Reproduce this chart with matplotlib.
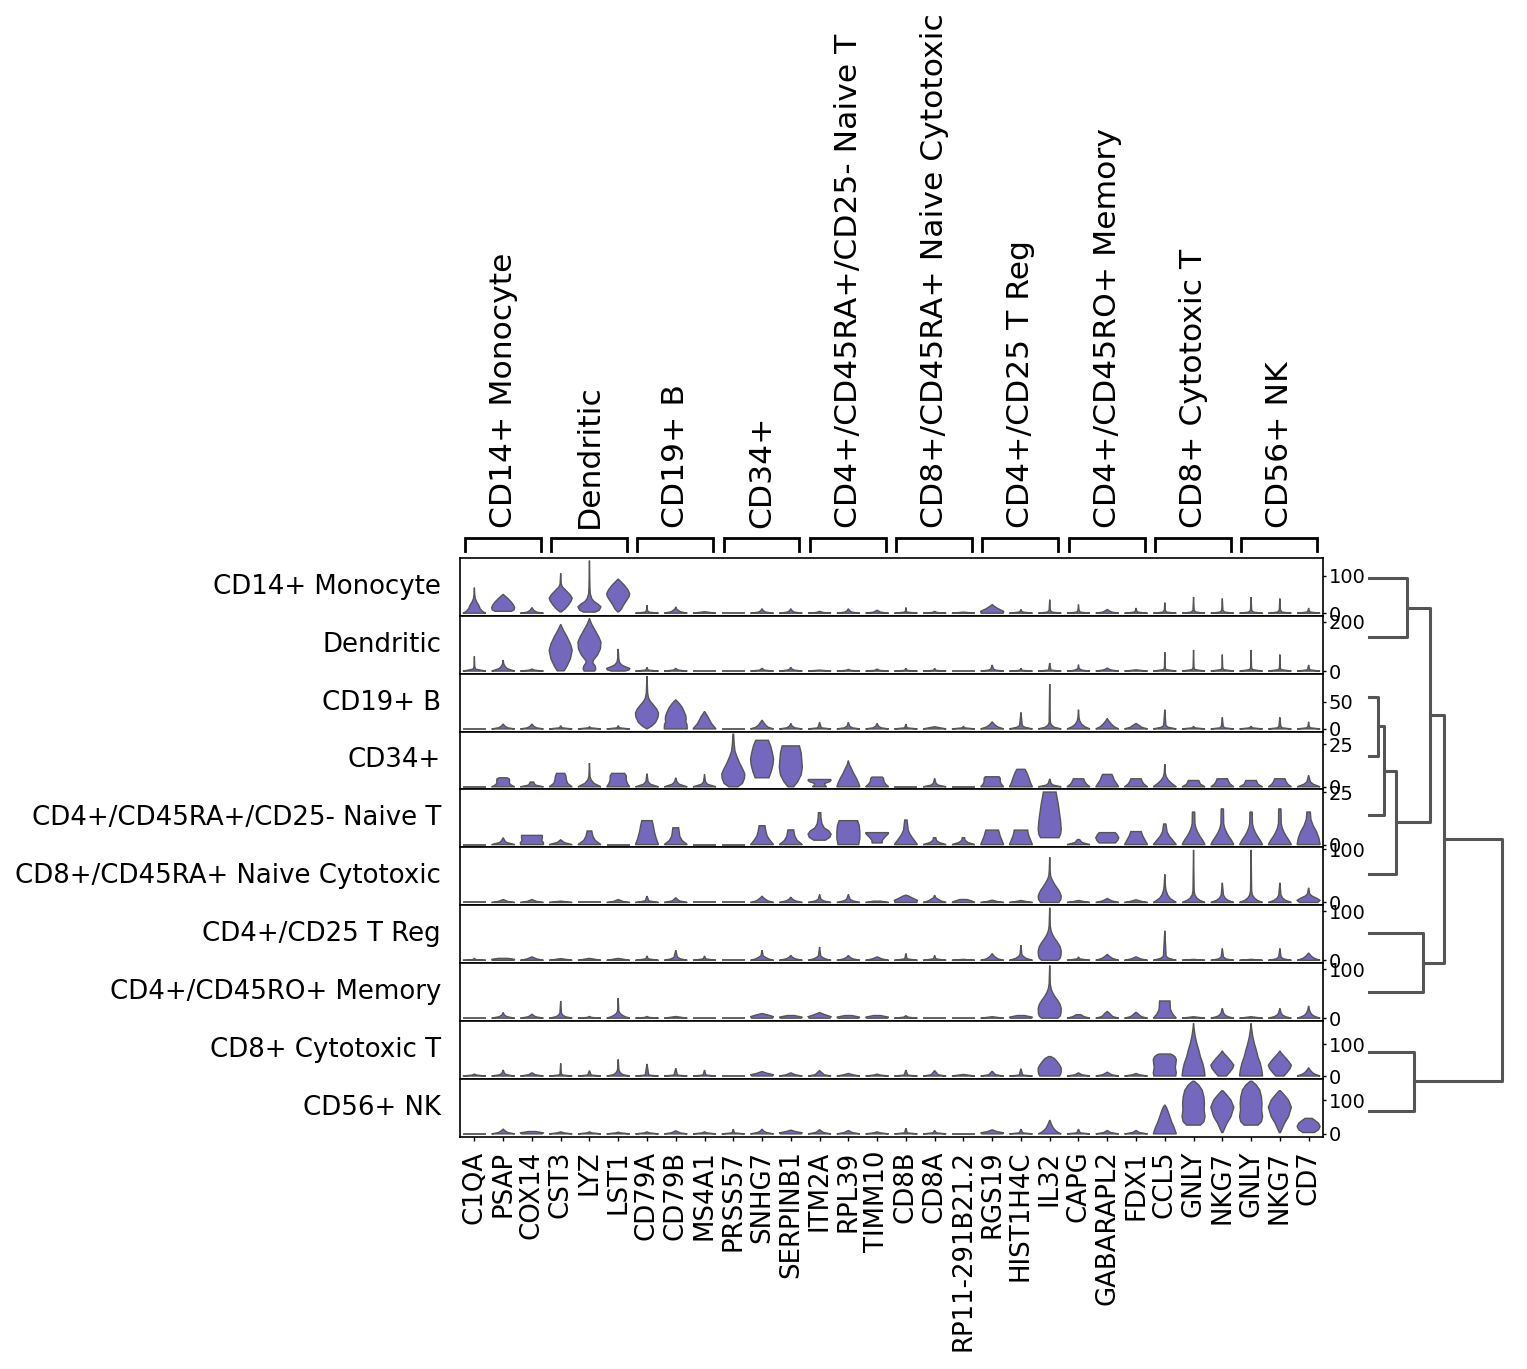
import numpy as np
import matplotlib
matplotlib.use('Agg')
import matplotlib.pyplot as plt

# GENES (x axis) AND MARKER GROUPS
genes = ['C1QA', 'PSAP', 'COX14', 'CST3', 'LYZ', 'LST1', 'CD79A', 'CD79B', 'MS4A1',
         'PRSS57', 'SNHG7', 'SERPINB1', 'ITM2A', 'RPL39', 'TIMM10', 'CD8B', 'CD8A',
         'RP11-291B21.2', 'RGS19', 'HIST1H4C', 'IL32', 'CAPG', 'GABARAPL2', 'FDX1',
         'CCL5', 'GNLY', 'NKG7', 'GNLY', 'NKG7', 'CD7']
cell_types = ['CD14+ Monocyte', 'Dendritic', 'CD19+ B', 'CD34+',
              'CD4+/CD45RA+/CD25- Naive T', 'CD8+/CD45RA+ Naive Cytotoxic',
              'CD4+/CD25 T Reg', 'CD4+/CD45RO+ Memory', 'CD8+ Cytotoxic T', 'CD56+ NK']
group_start = [0, 3, 6, 9, 12, 15, 18, 21, 24, 27]
group_end = [2, 5, 8, 11, 14, 17, 20, 23, 26, 29]
row_ticks = [100, 200, 50, 25, 25, 100, 100, 100, 100, 100]

# VIOLIN SHAPES: "value:relative_width" knots from min to max of each violin
row_cd14 = [
    "0:1 5:.7 12:.5 21:.38 30:.2 39:.08 50:.03 68:0",
    "5:.7 9:.95 15:1 22:.9 30:.7 38:.45 45:.2 50:0",
    "0:1 3:.4 8:.15 15:0",
    "3.5:.05 12:.4 21:.65 32:.9 40:1 48:.85 56:.6 64:.35 70:.15 78:.05 106:0",
    "3:.5 8:.85 17:1 24:.75 31:.4 39:.2 52:.07 70:.04 140:0",
    "3.5:.05 12:.3 21:.45 35:.75 45:.95 52:1 62:.85 74:.55 85:.2 91:0",
    "0:1 3:.15 8:.04 21:0",
    "0:1 4:.4 8:.2 12:.05 17:0",
    "0:1 4:0",
    "0:1",
    "0:1 3:.3 7:.1 12:0",
    "0:1 3:.3 7:.1 12:0",
    "0:1 2:.3 5:0",
    "0:1 3:.3 7:.1 12:0",
    "0:1 3:.3 8:0",
    "0:1 3:.1 6:.04 15:0",
    "0:1 2:.2 5:0",
    "0:1 3:0",
    "0:.95 5:1 10:.65 15:.35 20:.12 23:0",
    "0:1 3:.2 6:.05 10:0",
    "0:1 3:.2 8:.05 36:0",
    "0:1 3:.15 8:.05 23:0",
    "0:1 3:.4 6:.2 10:0",
    "0:1 3:.15 7:.05 14:0",
    "0:1 3:.15 8:.04 28:0",
    "0:1 3:.2 8:.05 43:0",
    "0:1 3:.2 8:.05 39:0",
    "0:1 3:.2 8:.05 43:0",
    "0:1 3:.2 8:.05 39:0",
    "0:1 3:.15 7:.05 14:0",
]
row_dendritic = [
    "0:1 8:.1 20:.03 60:0",
    "0:1 10:.35 20:.15 30:.05 45:0",
    "0:1 4:.2 8:0",
    "1:.3 20:.55 50:.85 85:1 110:.85 140:.55 165:.25 190:0",
    "0:.45 8:.55 20:.5 35:.28 45:.35 65:.7 90:.95 118:1 140:.8 165:.5 190:.2 214:0",
    "0:.6 5:.95 11:1 18:.6 25:.3 35:.12 50:.05 90:0",
    "0:1 4:.1 15:0",
    "0:1 4:.2 11:0",
    "0:1",
    "0:1",
    "0:1 4:.2 11:0",
    "0:1 4:.3 8:.1 15:0",
    "0:1 4:0",
    "0:1 3:.2 7:0",
    "0:1 3:.2 8:0",
    "0:1 3:.1 11:0",
    "0:1 3:.1 11:0",
    "0:1",
    "0:1 4:.3 8:.12 25:0",
    "0:1 3:.1 11:0",
    "0:1 4:.1 33:0",
    "0:1 3:.4 7:.15 12:.05 26:0",
    "0:1 4:.4 8:.15 12:0",
    "0:1 5:0",
    "0:1 6:.1 15:.03 77:0",
    "0:1 6:.12 15:.04 86:0",
    "0:1 6:.1 15:.03 67:0",
    "0:1 6:.12 15:.04 86:0",
    "0:1 6:.1 15:.03 67:0",
    "0:1 5:.1 25:0",
]
row_cd19 = [
    "0:1",
    "0:1 2:.4 5:.15 9:0",
    "0:1 2:.4 5:.15 9:0",
    "0:1 2:.1 6:0",
    "0:1 2:.1 4:0",
    "0:1 2:.1 6:0",
    "0:0 5:.4 12:.75 22:.97 29:1 36:.85 44:.55 50:.3 56:.15 65:.06 96:0",
    "0:.97 8:.95 13:.85 18:.88 24:.85 32:.7 39:.55 45:.35 50:.15 53:0",
    "0:1 5:.8 10:.6 16:.45 22:.3 28:.12 32:0",
    "0:1",
    "0:1 3:.55 6:.35 10:.2 16:0",
    "0:1 2:.35 5:.12 10:0",
    "0:1 2:.15 12:0",
    "0:1 2:.35 5:.12 12:0",
    "0:1 2:.35 5:.12 10:0",
    "0:1 2:.1 9:0",
    "0:1 4:0",
    "0:1 2:.1 5:0",
    "0:1 4:.45 8:.2 13:0",
    "0:1 3:.35 6:.12 30:0",
    "0:1 3:.4 7:.15 12:.05 82:0",
    "0:1 4:.55 8:.3 14:.12 20:.05 35:0",
    "0:1 4:.6 9:.35 14:.15 19:0",
    "0:1 3:.5 6:.3 10:0",
    "0:1 3:.3 6:.1 35:0",
    "0:1 2:.1 5:0",
    "0:1 2:.2 5:.08 21:0",
    "0:1 2:.1 5:0",
    "0:1 2:.2 5:.08 21:0",
    "0:1 2:.15 5:.05 13:0",
]
row_cd34 = [
    "0:1",
    "0:1 1:.7 2:.55 4.5:.55 5.3:.35",
    "0:1 1:.3 2:.2 2.8:.15",
    "0:1 2:.6 4:.5 6.5:.45 7.9:.35",
    "0:1 2:.4 4:.15 6:.05 14:0",
    "0:1 2:.8 4:.7 6.5:.7 7.9:.55",
    "0:1 1.5:.3 3:.1 7.7:0",
    "0:1 1.5:.3 3:.1 5.3:0",
    "0:1 1.5:.25 3:.08 7.3:0",
    "0:.4 2:.8 5:.97 7.5:1 10:.85 14:.55 18:.3 21:.15 25:.08 31:.03",
    "5.3:.6 9:.8 13:.95 16.4:1 20:.9 24:.75 27.4:.55",
    "0:.25 3:.6 7:.9 11.4:1 16:.95 20:.9 24.1:.75",
    "0:.55 1:.4 2:.4 3:.8 3.9:.9 4.3:.85",
    "0:1 2:.9 5:.7 8:.45 11:.25 13:.1 15.4:0",
    "0:1 1.5:.75 3:.6 5:.55 5.7:.45",
    "0:1",
    "0:1 1:.3 2:.12 4.9:0",
    "0:1",
    "0:1 1.5:.8 3:.7 5:.7 5.9:.6",
    "0:1 2:.85 4:.75 6:.65 8.5:.5 10.3:.35",
    "0:1 1:.3 2:.12 4.7:0",
    "0:1 1.5:.7 3:.55 4.7:.45",
    "0:1 2:.8 4:.6 6:.5 7.3:.4",
    "0:1 1.5:.7 3:.55 4.7:.45",
    "0:1 2:.6 4:.3 6:.12 8:.05 13.4:0",
    "0:1 1.5:.6 3:.5 3.7:.45",
    "0:1 1.5:.7 3:.55 4.7:.45",
    "0:1 1.5:.6 3:.5 3.7:.45",
    "0:1 1.5:.7 3:.55 4.7:.45",
    "0:1 1.5:.4 3:.15 6.7:0",
]
row_naive_t = [
    "0:1",
    "0:1 1:.3 1.8:.15 3.3:0",
    "0:1 1:1 2:.85 3:.9 4.4:.9",
    "0:1 1:.3 2.3:0",
    "0:1 2:.5 4:.3 6.5:.2",
    "0:1",
    "0:1 3:.8 6:.65 9:.55 11.4:.45",
    "0:1 2:.55 4:.35 6:.3 8:.25",
    "0:1",
    "0:1",
    "0:1 2:.7 4:.45 6:.35 9:.25",
    "0:1 2:.55 4:.35 7:.25",
    "2.1:.5 3.5:.9 5:1 6.5:.8 8:.4 10:.2 13:.12 15.2:.1",
    "0:.9 3:1 6:1 9:.95 11.4:.8",
    "0.8:.4 2:.4 3.5:.6 5:.85 5.7:.9",
    "0:1 3:.6 5:.35 7:.2 11.7:.1",
    "0:1 1:.4 2:.15 3.3:.1",
    "0:1 1:.4 2:.15 3.3:.1",
    "0:1 2:.85 4:.7 6:.6 6.9:.55",
    "0:1 2:.85 4:.7 6:.6 6.9:.6",
    "3.3:.8 5:.95 7.3:1 11:.95 15:.85 19:.75 22:.65 25:.55",
    "0:1 1:.3 2.4:.1",
    "0.8:.7 2:.9 3.3:1 4.8:.85 5.7:.7",
    "0:1 2:.8 4:.6 6.2:.45",
    "0:1 2:.7 4:.4 6:.2 9.8:.1",
    "0:1 2:.8 4:.55 6:.35 8:.2 10:.12 15.5:.1",
    "0:1 2:.8 4:.55 6:.35 8:.2 10:.12 17:.1",
    "0:1 2:.8 4:.55 6:.35 8:.2 10:.12 15.5:.1",
    "0:1 2:.8 4:.55 6:.35 8:.2 10:.12 17:.1",
    "0:1 3:.9 6:.7 9:.4 12:.2 15.5:.15",
]
row_naive_cyto = [
    "0:1",
    "0:1 2:.4 5.6:0",
    "0:1 2:.4 5.6:0",
    "0:1 2.5:0",
    "0:1",
    "0:1 2:.4 5.6:0",
    "0:1 3:.15 12:0",
    "0:1 3:.3 8.8:0",
    "0:1",
    "0:1",
    "0:1 3:.5 6:.3 9:.12 12:0",
    "0:1 3:.4 6:.15 10:0",
    "0:1 3:.35 6:.12 15:0",
    "0:1 3:.4 6:.15 15:0",
    "0:1 2.5:.3",
    "0:.95 4:1 8:.6 12:.25 13.8:0",
    "0:1 3:.55 6:.3 9:.1 13.8:0",
    "0:1 3:.7 5.6:.3",
    "0:1 2:.4 4.4:0",
    "0:1 2:.4 3.8:0",
    "0:.8 6:.97 12:1 18:.9 24:.75 30:.55 37:.35 44:.18 50:.08 60:.04 85:0",
    "0:1 2:.4 3.8:0",
    "0:1 3:.4 7.5:0",
    "0:1 2:.5 5:0",
    "0:1 4:.7 8:.45 14:.25 22:.12 30:.06 53:0",
    "0:1 4:.55 8:.3 14:.12 22:.05 99:0",
    "0:1 4:.5 8:.25 14:.1 37:0",
    "0:1 4:.55 8:.3 14:.12 22:.05 99:0",
    "0:1 4:.5 8:.25 14:.1 37:0",
    "0:.8 4:1 8:.7 12:.3 16:.1 27.6:0",
]
row_treg = [
    "0:1 1:.15 4:0",
    "0:.95 2:1 4:.4",
    "0:1 3:.4 7:0",
    "0:1 3.5:0",
    "0:1 4:0",
    "0:1 4:0",
    "0:1 3:.1 9:0",
    "0:1 3:.4 6:.15 20.5:0",
    "0:1 3:.1 9:0",
    "0:1",
    "0:1 3:.55 6:.3 9:.1 20.5:0",
    "0:1 3:.4 6:.15 10:0",
    "0:1 3:.5 6:.25 9:.1 27:0",
    "0:1 3:.4 6:.15 10:0",
    "0:1 3:.4 7:0",
    "0:1 3:.1 13.7:0",
    "0:1 3:.1 10:0",
    "0:1 2:0",
    "0:1 3:.5 6:.3 9:.15 13.7:0",
    "0:1 4:.45 8:.2 12:.08 31:0",
    "0:.7 4:.9 10:.98 19:1 28:.9 36:.7 44:.45 52:.25 60:.12 70:.05 107:0",
    "0:1 3:.1 7:0",
    "0:1 4:.45 8:.2 12:0",
    "0:1 3:.4 7:0",
    "0:1 4:.35 8:.12 60:0",
    "0:1 2:0",
    "0:1 3:.3 7:.1 24:0",
    "0:1 2:0",
    "0:1 3:.3 7:.1 24:0",
    "0:1 4:.5 8:.25 15:0",
]
row_memory = [
    "0:1",
    "0:1 3:.35 6:.12 11.5:0",
    "0:1 3:.3 8:0",
    "0:1 3:.4 6:.2 10:.07 35:0",
    "0:1 1.5:.2 3.4:0",
    "0:1 3:.6 6:.35 10:.15 15:.05 41:0",
    "0:1 1.5:.2 3.4:0",
    "0:1 2:.4 3.4:0",
    "0:1",
    "0:1",
    "0:.9 3:1 6:.6 9.5:0",
    "0:.9 2:1 5.4:.3",
    "0:.9 3:1 6:.6 9:.25 11.5:0",
    "0:.9 2:1 5.4:.3",
    "0:.9 2:1 5.4:.3",
    "0:1 2:.2 5:0",
    "0:1",
    "0:1",
    "0:1 3:0",
    "0:.9 2:1 5.4:.3",
    "0:.7 4:.9 10:.98 20:1 28:.9 36:.7 44:.45 52:.25 60:.12 70:.05 107:0",
    "0:1 3:.5 7:.2",
    "0:1 3:.5 6:.35 10:.2 13.6:0",
    "0:1 3:.5 6:.3 11.5:.05",
    "0:1 4:.85 8:.7 13:.58 18:.5 22:.48 35:.45",
    "0:1 3:0",
    "0:1 3:.5 6:.25 10:.12 20:0",
    "0:1 3:0",
    "0:1 3:.5 6:.25 10:.12 20:0",
    "0:1 3:.6 6:.35 10:.2 16:.08 25:0",
]
row_cd8 = [
    "0:1 3:.2 6:0",
    "0:1 4:.3 8:.12 19:0",
    "0:1 4:.3 10:0",
    "0:1 3:.2 6:.06 40:0",
    "0:1 3:.15 17:0",
    "0:1 4:.45 8:.25 14:.12 20:.06 52:0",
    "0:1 3:.15 38:0",
    "0:1 3:.15 24:0",
    "0:1 3:.12 19:0",
    "0:1",
    "0:.9 4:1 8:.5 14:0",
    "0:1 4:.4 10:0",
    "0:1 4:.4 17:0",
    "0:1 4:.4 8:0",
    "0:1 3:.3 6:0",
    "0:1 3:.15 19:0",
    "0:1 4:.3 17:0",
    "0:1 5:0",
    "0:1 4:.3 15:0",
    "0:1 3:.15 23:0",
    "0:.85 6:.95 14:1 25:1 35:.85 45:.65 55:.4 61:.1",
    "0:1 4:.3 10:0",
    "0:1 4:.4 12:0",
    "0:1 4:.3 8:0",
    "0:.95 10:1 20:.95 28:.92 40:.97 52:1 60:.9 66:.7 69:.5",
    "0:1 20:.93 40:.8 60:.6 82:.45 100:.3 123:.15 145:.06 165:0",
    "0:.35 12:.65 24:.9 34:1 44:.8 55:.55 65:.3 72:.12 79:0",
    "0:1 20:.93 40:.8 60:.6 82:.45 100:.3 123:.15 145:.06 165:0",
    "0:.35 12:.65 24:.9 34:1 44:.8 55:.55 65:.3 72:.12 79:0",
    "0:1 5:.6 10:.35 18:.15 26:0",
]
row_nk = [
    "0:1",
    "0:1 4:.4 8:.2 14:0",
    "0:.9 3:1 7:.3",
    "0:1 3:.3 6:0",
    "0:1 3:.2 6:0",
    "0:1 3:.2 5:0",
    "0:1 3:.2 6:0",
    "0:1 3:.4 9:0",
    "0:1 3:.2 6:0",
    "0:1 3:.1 14:0",
    "0:1 4:.4 8:.15 14:0",
    "0:.9 3:1 7:.4 11:0",
    "0:1 4:.35 12:0",
    "0:1 4:.35 10:0",
    "0:1 3:.3 6:0",
    "0:1 3:.12 17:0",
    "0:1 3:.15 10:0",
    "0:1",
    "0:.9 3:1 7:.4 12:0",
    "0:1 3:.15 14:0",
    "0:1 5:.7 10:.5 18:.3 28:.15 41:0",
    "0:1 3:.15 14:0",
    "0:1 4:.3 10:0",
    "0:1 4:.3 10:0",
    "0:1 10:.9 20:.8 35:.6 50:.45 65:.3 78:.15 86:0",
    "26:.6 36:.9 51:1 71:.92 90:.95 110:.9 130:.75 145:.45 156:.08",
    "4:.05 31:.4 51:.75 79:1 100:.75 115:.4 128:.05",
    "26:.6 36:.9 51:1 71:.92 90:.95 110:.9 130:.75 145:.45 156:.08",
    "4:.05 31:.4 51:.75 79:1 100:.75 115:.4 128:.05",
    "4:.5 12:.85 22:1 32:.85 40:.55 46:.3",
]
rows = [row_cd14, row_dendritic, row_cd19, row_cd34, row_naive_t,
        row_naive_cyto, row_treg, row_memory, row_cd8, row_nk]

# DENDROGRAM LINKAGE (left, right, distance), new clusters numbered from 10
links = [(2, 3, 0.063), (10, 4, 0.113), (11, 5, 0.199), (0, 1, 0.282),
         (8, 9, 0.340), (6, 7, 0.403), (13, 12, 0.458), (16, 15, 0.566),
         (17, 14, 1.0)]

# LAYOUT (pixels of a 1527x1369 figure)
W, H = 1527, 1369
fill_col = '#7468BE'
edge_col = '#555555'

fig = plt.figure(figsize=(W / 100, H / 100), dpi=100)

x0, x1 = 460, 1323
top, row_h = 558, 57.85
n = len(rows)

def parse(s):
    return np.array([[float(a) for a in p.split(':')] for p in s.split()])

axes = []
for r in range(n):
    yt = top + r * row_h
    ax = fig.add_axes([x0 / W, 1 - (yt + row_h) / H, (x1 - x0) / W, row_h / H])
    for i, s in enumerate(rows[r]):
        k = parse(s)
        if len(k) == 1:
            ax.plot([i - 0.4, i + 0.4], [k[0, 0]] * 2, color=edge_col, lw=1.3,
                    solid_capstyle='butt')
            continue
        v = np.linspace(k[0, 0], k[-1, 0], 150)
        w = np.interp(v, k[:, 0], k[:, 1]) / k[:, 1].max() * 0.4
        xs = np.concatenate([i - w, (i + w)[::-1]])
        ys = np.concatenate([v, v[::-1]])
        ax.fill(xs, ys, facecolor=fill_col, edgecolor=edge_col, lw=1.0)
    ax.set_xlim(-0.5, len(genes) - 0.5)
    ax.margins(y=0.05)
    ax.yaxis.tick_right()
    ax.set_yticks([0, row_ticks[r]])
    ax.tick_params(axis='y', labelsize=14, length=2.5, width=1, pad=1.5)
    for sp in ax.spines.values():
        sp.set_linewidth(1.2)
    ax.text(-0.022, 0.5, cell_types[r], transform=ax.transAxes, ha='right',
            va='center', fontsize=18.7)
    if r < n - 1:
        ax.set_xticks([])
    else:
        ax.set_xticks(range(len(genes)))
        ax.set_xticklabels(genes, rotation=90, fontsize=18.7)
        ax.tick_params(axis='x', length=3, width=1, pad=7)
    axes.append(ax)

# GENE GROUP BRACKETS
bx = fig.add_axes([x0 / W, 1 - 551 / H, (x1 - x0) / W, 13 / H])
bx.set_xlim(-0.5, len(genes) - 0.5)
bx.set_ylim(0, 1)
bx.axis('off')
for s, e, lab in zip(group_start, group_end, cell_types):
    bx.plot([s - 0.34, s - 0.34, e + 0.30, e + 0.30], [0, 1, 1, 0], color='black',
            lw=2.0, clip_on=False, solid_joinstyle='miter')
    bx.text((s + e) / 2, 1.8, lab, rotation=90, ha='center',
            va='bottom', fontsize=22.6)

# DENDROGRAM
dx = fig.add_axes([1369.3 / W, 1 - 1140.3 / H, (1501.7 - 1369.3) / W, 591.6 / H])
dx.set_xlim(0, 1)
dx.set_ylim(n, 0)
dx.axis('off')
pos = {i: (i + 0.5, 0.0) for i in range(n)}
for j, (a, b, h) in enumerate(links):
    ya, da = pos[a]
    yb, db = pos[b]
    dx.plot([da, h, h, db], [ya, ya, yb, yb], color=edge_col, lw=2.2, clip_on=False)
    pos[n + j] = ((ya + yb) / 2, h)

fig.savefig('out.png', dpi=100)
